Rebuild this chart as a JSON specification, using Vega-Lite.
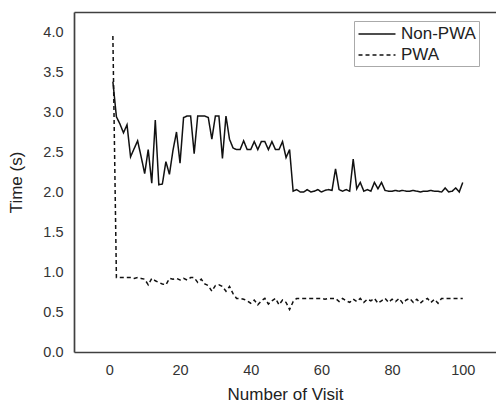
{
  "$schema": "https://vega.github.io/schema/vega-lite/v6.json",
  "autosize": {"type": "none"},
  "padding": {"left": 74, "top": 12, "right": 0, "bottom": 51},
  "width": 422,
  "height": 340,
  "background": "white",
  "config": {
    "font": "Liberation Sans",
    "view": {"stroke": null},
    "axis": {
      "domainColor": "#404040",
      "domainWidth": 1.7,
      "grid": false,
      "ticks": false,
      "labelColor": "#333333",
      "titleColor": "#222222",
      "labelFont": "Liberation Sans",
      "titleFont": "Liberation Sans",
      "labelFontSize": 14.5,
      "titleFontSize": 17,
      "titleFontWeight": "normal"
    }
  },
  "data": {
    "values": [
      {"visit": 1, "series": "Non-PWA", "time": 3.38},
      {"visit": 2, "series": "Non-PWA", "time": 2.94},
      {"visit": 3, "series": "Non-PWA", "time": 2.85},
      {"visit": 4, "series": "Non-PWA", "time": 2.74},
      {"visit": 5, "series": "Non-PWA", "time": 2.84},
      {"visit": 6, "series": "Non-PWA", "time": 2.44},
      {"visit": 7, "series": "Non-PWA", "time": 2.54},
      {"visit": 8, "series": "Non-PWA", "time": 2.64},
      {"visit": 9, "series": "Non-PWA", "time": 2.44},
      {"visit": 10, "series": "Non-PWA", "time": 2.23},
      {"visit": 11, "series": "Non-PWA", "time": 2.53},
      {"visit": 12, "series": "Non-PWA", "time": 2.11},
      {"visit": 13, "series": "Non-PWA", "time": 2.9},
      {"visit": 14, "series": "Non-PWA", "time": 2.09},
      {"visit": 15, "series": "Non-PWA", "time": 2.1},
      {"visit": 16, "series": "Non-PWA", "time": 2.38},
      {"visit": 17, "series": "Non-PWA", "time": 2.22},
      {"visit": 18, "series": "Non-PWA", "time": 2.52},
      {"visit": 19, "series": "Non-PWA", "time": 2.75},
      {"visit": 20, "series": "Non-PWA", "time": 2.36},
      {"visit": 21, "series": "Non-PWA", "time": 2.93},
      {"visit": 22, "series": "Non-PWA", "time": 2.95},
      {"visit": 23, "series": "Non-PWA", "time": 2.95},
      {"visit": 24, "series": "Non-PWA", "time": 2.48},
      {"visit": 25, "series": "Non-PWA", "time": 2.95},
      {"visit": 26, "series": "Non-PWA", "time": 2.95},
      {"visit": 27, "series": "Non-PWA", "time": 2.95},
      {"visit": 28, "series": "Non-PWA", "time": 2.93},
      {"visit": 29, "series": "Non-PWA", "time": 2.66},
      {"visit": 30, "series": "Non-PWA", "time": 2.95},
      {"visit": 31, "series": "Non-PWA", "time": 2.95},
      {"visit": 32, "series": "Non-PWA", "time": 2.42},
      {"visit": 33, "series": "Non-PWA", "time": 2.95},
      {"visit": 34, "series": "Non-PWA", "time": 2.66},
      {"visit": 35, "series": "Non-PWA", "time": 2.55},
      {"visit": 36, "series": "Non-PWA", "time": 2.53},
      {"visit": 37, "series": "Non-PWA", "time": 2.53},
      {"visit": 38, "series": "Non-PWA", "time": 2.64},
      {"visit": 39, "series": "Non-PWA", "time": 2.53},
      {"visit": 40, "series": "Non-PWA", "time": 2.53},
      {"visit": 41, "series": "Non-PWA", "time": 2.63},
      {"visit": 42, "series": "Non-PWA", "time": 2.53},
      {"visit": 43, "series": "Non-PWA", "time": 2.63},
      {"visit": 44, "series": "Non-PWA", "time": 2.63},
      {"visit": 45, "series": "Non-PWA", "time": 2.53},
      {"visit": 46, "series": "Non-PWA", "time": 2.63},
      {"visit": 47, "series": "Non-PWA", "time": 2.53},
      {"visit": 48, "series": "Non-PWA", "time": 2.53},
      {"visit": 49, "series": "Non-PWA", "time": 2.63},
      {"visit": 50, "series": "Non-PWA", "time": 2.43},
      {"visit": 51, "series": "Non-PWA", "time": 2.53},
      {"visit": 52, "series": "Non-PWA", "time": 2.01},
      {"visit": 53, "series": "Non-PWA", "time": 2.03},
      {"visit": 54, "series": "Non-PWA", "time": 2.0},
      {"visit": 55, "series": "Non-PWA", "time": 2.0},
      {"visit": 56, "series": "Non-PWA", "time": 2.03},
      {"visit": 57, "series": "Non-PWA", "time": 2.0},
      {"visit": 58, "series": "Non-PWA", "time": 2.01},
      {"visit": 59, "series": "Non-PWA", "time": 2.03},
      {"visit": 60, "series": "Non-PWA", "time": 2.0},
      {"visit": 61, "series": "Non-PWA", "time": 2.02},
      {"visit": 62, "series": "Non-PWA", "time": 2.03},
      {"visit": 63, "series": "Non-PWA", "time": 2.02},
      {"visit": 64, "series": "Non-PWA", "time": 2.29},
      {"visit": 65, "series": "Non-PWA", "time": 2.03},
      {"visit": 66, "series": "Non-PWA", "time": 2.01},
      {"visit": 67, "series": "Non-PWA", "time": 2.03},
      {"visit": 68, "series": "Non-PWA", "time": 2.01},
      {"visit": 69, "series": "Non-PWA", "time": 2.41},
      {"visit": 70, "series": "Non-PWA", "time": 2.04},
      {"visit": 71, "series": "Non-PWA", "time": 2.12},
      {"visit": 72, "series": "Non-PWA", "time": 2.01},
      {"visit": 73, "series": "Non-PWA", "time": 2.03},
      {"visit": 74, "series": "Non-PWA", "time": 2.01},
      {"visit": 75, "series": "Non-PWA", "time": 2.12},
      {"visit": 76, "series": "Non-PWA", "time": 2.04},
      {"visit": 77, "series": "Non-PWA", "time": 2.12},
      {"visit": 78, "series": "Non-PWA", "time": 2.02},
      {"visit": 79, "series": "Non-PWA", "time": 2.01},
      {"visit": 80, "series": "Non-PWA", "time": 2.01},
      {"visit": 81, "series": "Non-PWA", "time": 2.02},
      {"visit": 82, "series": "Non-PWA", "time": 2.01},
      {"visit": 83, "series": "Non-PWA", "time": 2.02},
      {"visit": 84, "series": "Non-PWA", "time": 2.01},
      {"visit": 85, "series": "Non-PWA", "time": 2.01},
      {"visit": 86, "series": "Non-PWA", "time": 2.02},
      {"visit": 87, "series": "Non-PWA", "time": 2.01},
      {"visit": 88, "series": "Non-PWA", "time": 2.0},
      {"visit": 89, "series": "Non-PWA", "time": 2.01},
      {"visit": 90, "series": "Non-PWA", "time": 2.01},
      {"visit": 91, "series": "Non-PWA", "time": 2.02},
      {"visit": 92, "series": "Non-PWA", "time": 2.01},
      {"visit": 93, "series": "Non-PWA", "time": 2.01},
      {"visit": 94, "series": "Non-PWA", "time": 2.0},
      {"visit": 95, "series": "Non-PWA", "time": 2.05},
      {"visit": 96, "series": "Non-PWA", "time": 2.0},
      {"visit": 97, "series": "Non-PWA", "time": 2.01},
      {"visit": 98, "series": "Non-PWA", "time": 2.05},
      {"visit": 99, "series": "Non-PWA", "time": 2.0},
      {"visit": 100, "series": "Non-PWA", "time": 2.12},
      {"visit": 1, "series": "PWA", "time": 3.95},
      {"visit": 2, "series": "PWA", "time": 0.93},
      {"visit": 3, "series": "PWA", "time": 0.93},
      {"visit": 4, "series": "PWA", "time": 0.93},
      {"visit": 5, "series": "PWA", "time": 0.93},
      {"visit": 6, "series": "PWA", "time": 0.93},
      {"visit": 7, "series": "PWA", "time": 0.92},
      {"visit": 8, "series": "PWA", "time": 0.93},
      {"visit": 9, "series": "PWA", "time": 0.92},
      {"visit": 10, "series": "PWA", "time": 0.91},
      {"visit": 11, "series": "PWA", "time": 0.84},
      {"visit": 12, "series": "PWA", "time": 0.92},
      {"visit": 13, "series": "PWA", "time": 0.89},
      {"visit": 14, "series": "PWA", "time": 0.87},
      {"visit": 15, "series": "PWA", "time": 0.85},
      {"visit": 16, "series": "PWA", "time": 0.84},
      {"visit": 17, "series": "PWA", "time": 0.92},
      {"visit": 18, "series": "PWA", "time": 0.91},
      {"visit": 19, "series": "PWA", "time": 0.92},
      {"visit": 20, "series": "PWA", "time": 0.9},
      {"visit": 21, "series": "PWA", "time": 0.92},
      {"visit": 22, "series": "PWA", "time": 0.9},
      {"visit": 23, "series": "PWA", "time": 0.93},
      {"visit": 24, "series": "PWA", "time": 0.93},
      {"visit": 25, "series": "PWA", "time": 0.87},
      {"visit": 26, "series": "PWA", "time": 0.91},
      {"visit": 27, "series": "PWA", "time": 0.85},
      {"visit": 28, "series": "PWA", "time": 0.83},
      {"visit": 29, "series": "PWA", "time": 0.76},
      {"visit": 30, "series": "PWA", "time": 0.83},
      {"visit": 31, "series": "PWA", "time": 0.84},
      {"visit": 32, "series": "PWA", "time": 0.82},
      {"visit": 33, "series": "PWA", "time": 0.76},
      {"visit": 34, "series": "PWA", "time": 0.82},
      {"visit": 35, "series": "PWA", "time": 0.73},
      {"visit": 36, "series": "PWA", "time": 0.67},
      {"visit": 37, "series": "PWA", "time": 0.67},
      {"visit": 38, "series": "PWA", "time": 0.66},
      {"visit": 39, "series": "PWA", "time": 0.64},
      {"visit": 40, "series": "PWA", "time": 0.61},
      {"visit": 41, "series": "PWA", "time": 0.65},
      {"visit": 42, "series": "PWA", "time": 0.59},
      {"visit": 43, "series": "PWA", "time": 0.64},
      {"visit": 44, "series": "PWA", "time": 0.67},
      {"visit": 45, "series": "PWA", "time": 0.6},
      {"visit": 46, "series": "PWA", "time": 0.64},
      {"visit": 47, "series": "PWA", "time": 0.67},
      {"visit": 48, "series": "PWA", "time": 0.59},
      {"visit": 49, "series": "PWA", "time": 0.65},
      {"visit": 50, "series": "PWA", "time": 0.62},
      {"visit": 51, "series": "PWA", "time": 0.53},
      {"visit": 52, "series": "PWA", "time": 0.63},
      {"visit": 53, "series": "PWA", "time": 0.67},
      {"visit": 54, "series": "PWA", "time": 0.67},
      {"visit": 55, "series": "PWA", "time": 0.67},
      {"visit": 56, "series": "PWA", "time": 0.67},
      {"visit": 57, "series": "PWA", "time": 0.67},
      {"visit": 58, "series": "PWA", "time": 0.67},
      {"visit": 59, "series": "PWA", "time": 0.67},
      {"visit": 60, "series": "PWA", "time": 0.67},
      {"visit": 61, "series": "PWA", "time": 0.66},
      {"visit": 62, "series": "PWA", "time": 0.67},
      {"visit": 63, "series": "PWA", "time": 0.67},
      {"visit": 64, "series": "PWA", "time": 0.67},
      {"visit": 65, "series": "PWA", "time": 0.63},
      {"visit": 66, "series": "PWA", "time": 0.67},
      {"visit": 67, "series": "PWA", "time": 0.64},
      {"visit": 68, "series": "PWA", "time": 0.62},
      {"visit": 69, "series": "PWA", "time": 0.66},
      {"visit": 70, "series": "PWA", "time": 0.63},
      {"visit": 71, "series": "PWA", "time": 0.67},
      {"visit": 72, "series": "PWA", "time": 0.62},
      {"visit": 73, "series": "PWA", "time": 0.66},
      {"visit": 74, "series": "PWA", "time": 0.64},
      {"visit": 75, "series": "PWA", "time": 0.67},
      {"visit": 76, "series": "PWA", "time": 0.61},
      {"visit": 77, "series": "PWA", "time": 0.64},
      {"visit": 78, "series": "PWA", "time": 0.67},
      {"visit": 79, "series": "PWA", "time": 0.62},
      {"visit": 80, "series": "PWA", "time": 0.66},
      {"visit": 81, "series": "PWA", "time": 0.63},
      {"visit": 82, "series": "PWA", "time": 0.67},
      {"visit": 83, "series": "PWA", "time": 0.61},
      {"visit": 84, "series": "PWA", "time": 0.65},
      {"visit": 85, "series": "PWA", "time": 0.67},
      {"visit": 86, "series": "PWA", "time": 0.62},
      {"visit": 87, "series": "PWA", "time": 0.66},
      {"visit": 88, "series": "PWA", "time": 0.61},
      {"visit": 89, "series": "PWA", "time": 0.65},
      {"visit": 90, "series": "PWA", "time": 0.67},
      {"visit": 91, "series": "PWA", "time": 0.62},
      {"visit": 92, "series": "PWA", "time": 0.66},
      {"visit": 93, "series": "PWA", "time": 0.61},
      {"visit": 94, "series": "PWA", "time": 0.67},
      {"visit": 95, "series": "PWA", "time": 0.67},
      {"visit": 96, "series": "PWA", "time": 0.67},
      {"visit": 97, "series": "PWA", "time": 0.67},
      {"visit": 98, "series": "PWA", "time": 0.67},
      {"visit": 99, "series": "PWA", "time": 0.67},
      {"visit": 100, "series": "PWA", "time": 0.67}
    ]
  },
  "layer": [
    {
      "mark": {"type": "line", "strokeWidth": 1.5},
      "encoding": {
        "x": {
          "field": "visit",
          "type": "quantitative",
          "scale": {"domain": [-10, 109.4], "nice": false, "zero": false},
          "axis": {
            "orient": "bottom",
            "values": [0, 20, 40, 60, 80, 100],
            "labelPadding": 11,
            "title": "Number of Visit",
            "titlePadding": 10
          }
        },
        "y": {
          "field": "time",
          "type": "quantitative",
          "scale": {"domain": [0, 4.25], "nice": false},
          "axis": {
            "values": [0, 0.5, 1, 1.5, 2, 2.5, 3, 3.5, 4],
            "format": ".1f",
            "labelPadding": 11,
            "title": "Time (s)",
            "titlePadding": 17
          }
        },
        "color": {
          "field": "series",
          "type": "nominal",
          "scale": {"domain": ["Non-PWA", "PWA"], "range": ["#111111", "#111111"]},
          "legend": {
            "title": null,
            "orient": "none",
            "legendX": 280,
            "legendY": 9,
            "symbolType": "M-2,0L2,0",
            "symbolSize": 342,
            "symbolStrokeWidth": 1.5,
            "symbolOffset": 10,
            "labelFontSize": 17,
            "labelColor": "#222222",
            "labelOffset": 14,
            "padding": 3,
            "rowPadding": 3,
            "strokeColor": "#aaaaaa",
            "fillColor": "white"
          }
        },
        "strokeDash": {
          "field": "series",
          "type": "nominal",
          "scale": {"domain": ["Non-PWA", "PWA"], "range": [[1, 0], [4, 3]]},
          "legend": {
            "title": null,
            "orient": "none",
            "legendX": 280,
            "legendY": 9,
            "symbolType": "M-2,0L2,0",
            "symbolSize": 342,
            "symbolStrokeWidth": 1.5,
            "symbolOffset": 10,
            "labelFontSize": 17,
            "labelColor": "#222222",
            "labelOffset": 14,
            "padding": 3,
            "rowPadding": 3,
            "strokeColor": "#aaaaaa",
            "fillColor": "white"
          }
        }
      }
    },
    {
      "mark": {"type": "line", "opacity": 0},
      "encoding": {
        "x": {
          "field": "visit",
          "type": "quantitative",
          "axis": {"orient": "top", "labels": false, "ticks": false, "title": null}
        },
        "y": {"field": "time", "type": "quantitative"}
      }
    }
  ],
  "resolve": {"axis": {"x": "independent"}}
}
